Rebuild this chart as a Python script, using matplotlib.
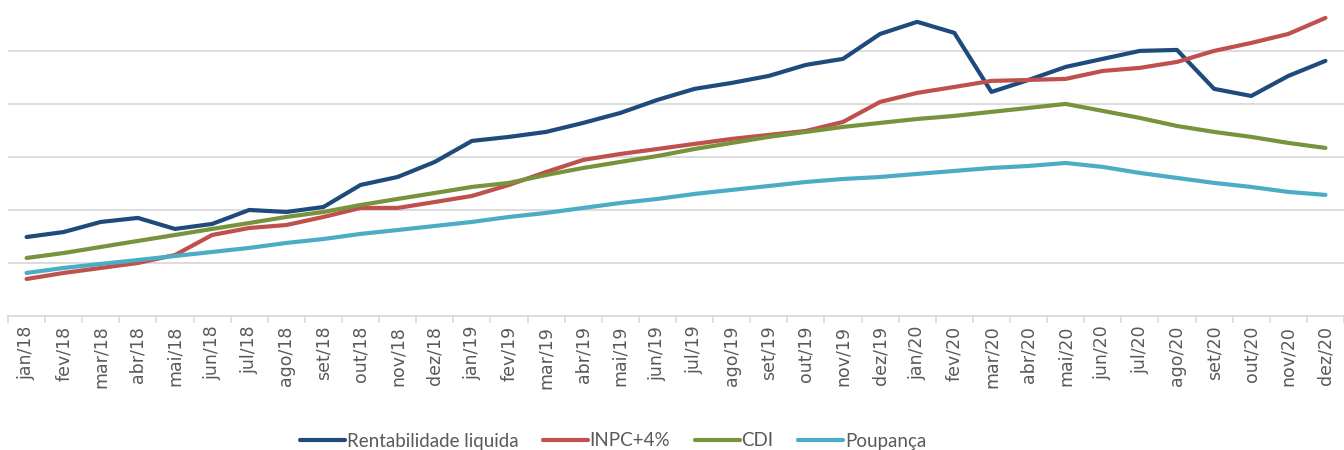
import matplotlib
matplotlib.use("Agg")
import matplotlib.pyplot as plt
from matplotlib.ticker import FixedLocator
from matplotlib.font_manager import FontProperties

# monthly categories
months = ["jan/18", "fev/18", "mar/18", "abr/18", "mai/18", "jun/18", "jul/18", "ago/18",
          "set/18", "out/18", "nov/18", "dez/18", "jan/19", "fev/19", "mar/19", "abr/19",
          "mai/19", "jun/19", "jul/19", "ago/19", "set/19", "out/19", "nov/19", "dez/19",
          "jan/20", "fev/20", "mar/20", "abr/20", "mai/20", "jun/20", "jul/20", "ago/20",
          "set/20", "out/20", "nov/20", "dez/20"]

# accumulated values (%)
rentabilidade = [7.45, 7.92, 8.87, 9.25, 8.21, 8.68, 10.0, 9.81, 10.28, 12.36, 13.11, 14.53,
                 16.51, 16.89, 17.36, 18.21, 19.15, 20.38, 21.42, 21.98, 22.64, 23.68, 24.25, 26.60,
                 27.74, 26.70, 21.13, 22.26, 23.49, 24.25, 25.00, 25.09, 21.42, 20.75, 22.64, 24.06]
inpc4 = [3.49, 4.06, 4.53, 5.00, 5.75, 7.64, 8.30, 8.58, 9.34, 10.19, 10.19, 10.75,
         11.32, 12.36, 13.58, 14.72, 15.28, 15.75, 16.23, 16.70, 17.08, 17.45, 18.30, 20.19,
         21.04, 21.60, 22.17, 22.26, 22.36, 23.11, 23.40, 23.96, 25.00, 25.75, 26.60, 28.11]
cdi = [5.47, 5.94, 6.51, 7.08, 7.64, 8.21, 8.77, 9.34, 9.81, 10.47, 11.04, 11.60,
       12.17, 12.55, 13.30, 13.96, 14.53, 15.09, 15.75, 16.32, 16.89, 17.36, 17.83, 18.21,
       18.58, 18.87, 19.25, 19.62, 20.00, 19.34, 18.68, 17.92, 17.36, 16.89, 16.32, 15.85]
poupanca = [4.06, 4.53, 4.91, 5.28, 5.66, 6.04, 6.42, 6.89, 7.26, 7.74, 8.11, 8.49,
            8.87, 9.34, 9.72, 10.19, 10.66, 11.04, 11.51, 11.89, 12.26, 12.64, 12.92, 13.11,
            13.40, 13.68, 13.96, 14.15, 14.43, 14.06, 13.49, 13.02, 12.55, 12.17, 11.70, 11.42]

fig = plt.figure(figsize=(13.44, 4.5), dpi=100)
ax = fig.add_axes([8 / 1344, 134 / 450, 1336 / 1344, 316 / 450])

x = range(len(months))
style = dict(lw=3, solid_capstyle="round", solid_joinstyle="round")
ax.plot(x, rentabilidade, color="#1f4a7c", label="Rentabilidade liquida", **style)
ax.plot(x, inpc4, color="#c0504d", label="INPC+4%", **style)
ax.plot(x, cdi, color="#77933c", label="CDI", **style)
ax.plot(x, poupanca, color="#4bacc6", label="Poupança", **style)

ax.set_xlim(-0.5, len(months) - 0.5)
ax.set_ylim(0, 29.8)
ax.set_yticks([5, 10, 15, 20, 25])
ax.yaxis.grid(True, color="#d9d9d9", lw=1.3)
ax.set_axisbelow(True)
ax.tick_params(axis="y", left=False, labelleft=False)

for s in ["left", "right", "top"]:
    ax.spines[s].set_visible(False)
ax.spines["bottom"].set_color("#d9d9d9")
ax.spines["bottom"].set_linewidth(1.3)

tick_font = FontProperties(family="DejaVu Sans", size=12.5)
ax.set_xticks(list(x))
ax.set_xticklabels(months, rotation=90, color="#595959", fontproperties=tick_font)
ax.xaxis.set_minor_locator(FixedLocator([i - 0.5 for i in range(len(months) + 1)]))
ax.tick_params(axis="x", which="major", length=0, pad=7)
ax.tick_params(axis="x", which="minor", length=5, color="#d9d9d9", width=1.2)

fig.legend(loc="center", bbox_to_anchor=(613 / 1344, 1 - 441 / 450), ncol=4, frameon=False,
           handlelength=2.4, handletextpad=0.1, columnspacing=1.3,
           prop=FontProperties(family="Lato", size=13.5),
           labelcolor="#595959")

fig.savefig("out.png", dpi=100)
